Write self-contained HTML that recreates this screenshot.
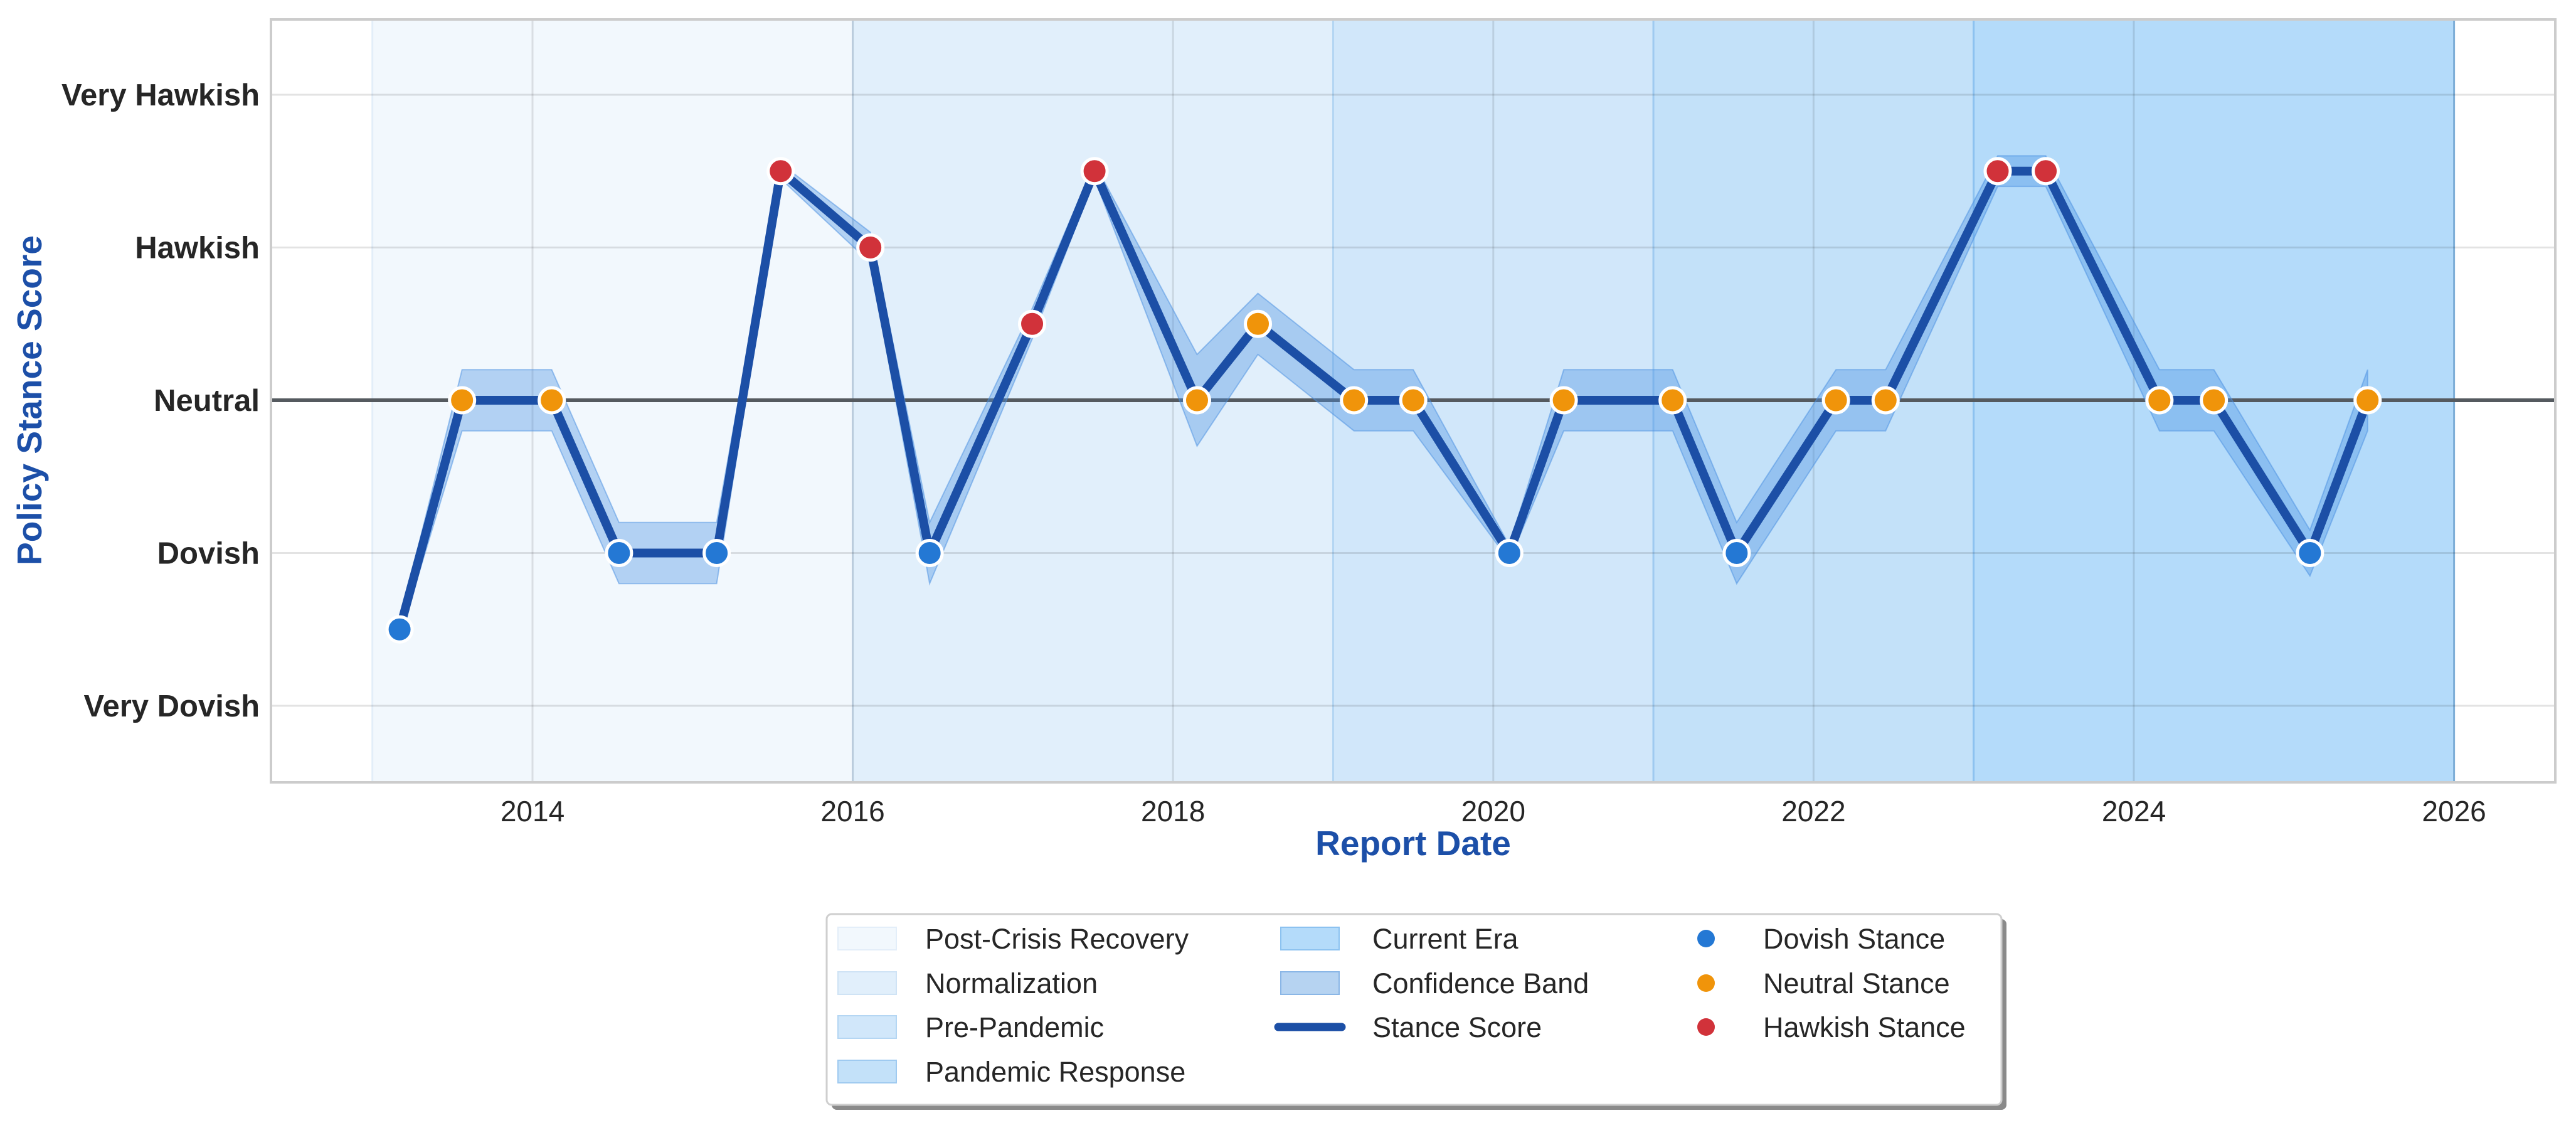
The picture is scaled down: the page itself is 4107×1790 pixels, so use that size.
<!DOCTYPE html>
<html><head><meta charset="utf-8"><style>
html,body{margin:0;padding:0;background:#fff;}
svg{display:block;font-family:"Liberation Sans",Arial,sans-serif;}
</style></head><body>
<svg id="chart" width="4107" height="1790" viewBox="0 0 4107 1790" xmlns="http://www.w3.org/2000/svg">
<g id="shades"></g><g id="grid"></g><g id="series"></g><g id="axes"></g><g id="legend"></g>
</svg>
<script>
const years = [2013.17,2013.56,2014.12,2014.54,2015.15,2015.55,2016.11,2016.48,2017.12,2017.51,2018.15,2018.53,2019.13,2019.5,2020.1,2020.44,2021.12,2021.52,2022.14,2022.45,2023.15,2023.45,2024.16,2024.5,2025.1,2025.46];
const scores = [-1.5,0,0,-1,-1,1.5,1,-1,0.5,1.5,0,0.5,0,0,-1,0,0,-1,0,0,1.5,1.5,0,0,-1,0];
const uncert = [0.05,0.2,0.2,0.2,0.2,0.05,0.1,0.2,0.1,0.05,0.3,0.2,0.2,0.2,0.05,0.2,0.2,0.2,0.2,0.2,0.1,0.1,0.2,0.2,0.15,0.2];
const stances = ['d','n','n','d','d','h','h','d','h','h','n','n','n','n','d','n','n','d','n','n','h','h','n','n','d','n'];
const eraStarts = [2013,2016,2019,2021,2023];
const eraEnds = [2016,2019,2021,2023,2026];
const eraNames = ['Post-Crisis Recovery','Normalization','Pre-Pandemic','Pandemic Response','Current Era'];
const yTickVals = [-2,-1,0,1,2];
const yTickLabels = ['Very Dovish','Dovish','Neutral','Hawkish','Very Hawkish'];
const xTickVals = [2014,2016,2018,2020,2022,2024,2026];

const NS='http://www.w3.org/2000/svg';
const L=432,R=4074,T=31,B=1247;
const xs=v=>849+(v-2014)*255.3;
const ys=v=>638-v*243.5;
function mk(tag,attrs,parent,text){const e=document.createElementNS(NS,tag);for(const k in attrs)e.setAttribute(k,attrs[k]);if(text!==undefined)e.textContent=text;document.getElementById(parent).appendChild(e);return e;}
const eraFill=['#f2f8fd','#e1effb','#d1e7fa','#c3e1f9','#b4dbfa'];
const eraEdge=['#e3eef9','#cfe3f5','#b4d6f3','#9fcaf0','#8cc2f0'];
const colors={d:'#2478d4',n:'#f0940a',h:'#d1323a'};

mk('rect',{x:L,y:T,width:R-L,height:B-T,fill:'#fff'},'shades');
for(let i=0;i<eraStarts.length;i++){
  const e=mk('rect',{x:xs(eraStarts[i]),y:T,width:xs(eraEnds[i])-xs(eraStarts[i]),height:B-T,fill:eraFill[i],stroke:eraEdge[i],'stroke-width':3},'shades');
  
  
}
for(const v of yTickVals){
  const g=mk('line',{x1:L,x2:R,y1:ys(v),y2:ys(v),stroke:'rgba(0,0,0,0.11)','stroke-width':3},'grid');
  
  
  const t=mk('text',{x:L-18,y:ys(v)+17,'text-anchor':'end','font-size':49,'font-weight':'bold',fill:'#262626'},'axes',yTickLabels[yTickVals.indexOf(v)]);
  
  
}
for(const v of xTickVals){
  const g=mk('line',{x1:xs(v),x2:xs(v),y1:T,y2:B,stroke:'rgba(0,0,0,0.1)','stroke-width':3},'grid');
  
  
  const t=mk('text',{x:xs(v),y:B+62,'text-anchor':'middle','font-size':46,fill:'#262626'},'axes',String(v));
  
  
}
const nl=mk('line',{x1:L,x2:R,y1:ys(0),y2:ys(0),stroke:'#555a5f','stroke-width':6},'series');


let up=[],dn=[];
for(let i=0;i<years.length;i++){up.push(xs(years[i])+','+ys(scores[i]+uncert[i]));dn.unshift(xs(years[i])+','+ys(scores[i]-uncert[i]));}
const band=mk('polygon',{points:up.concat(dn).join(' '),fill:'rgba(74,144,226,0.38)',stroke:'rgba(74,144,226,0.5)','stroke-width':2},'series');


const pts=years.map((y,i)=>xs(y)+','+ys(scores[i])).join(' ');
const line=mk('polyline',{points:pts,fill:'none',stroke:'#1c4fa6','stroke-width':14,'stroke-linejoin':'round'},'series');


for(let i=0;i<years.length;i++){
  const c=mk('circle',{cx:xs(years[i]),cy:ys(scores[i]),r:20,fill:colors[stances[i]],stroke:'#fff','stroke-width':5},'series');
  
  
}
const fr=mk('rect',{x:L,y:T,width:R-L,height:B-T,fill:'none',stroke:'#cccccc','stroke-width':4},'axes');


const xt=mk('text',{x:(L+R)/2,y:1363,'text-anchor':'middle','font-size':55,'font-weight':'bold',fill:'#1c4fa8'},'axes','Report Date');


const yt=mk('text',{x:0,y:0,'text-anchor':'middle','font-size':55,'font-weight':'bold',fill:'#1c4fa8',transform:'translate(66,638) rotate(-90)'},'axes','Policy Stance Score');


const sh=mk('rect',{x:1326,y:1465,width:1873,height:304,rx:8,fill:'#8a8a8a'},'legend');


const lb=mk('rect',{x:1318,y:1457,width:1873,height:304,rx:8,fill:'#fff',stroke:'#cfcfcf','stroke-width':3},'legend');


const rows=[1496,1567,1637,1708];
const items=[];
eraNames.slice(0,4).forEach((n,i)=>items.push({c:0,r:i,type:'patch',fill:eraFill[i],edge:eraEdge[i],t:n}));
items.push({c:1,r:0,type:'patch',fill:eraFill[4],edge:eraEdge[4],t:eraNames[4]});
items.push({c:1,r:1,type:'patch',fill:'#b6d3f1',edge:'#8ab6e6',t:'Confidence Band'});
items.push({c:1,r:2,type:'line',t:'Stance Score'});
items.push({c:2,r:0,type:'dot',fill:colors.d,t:'Dovish Stance'});
items.push({c:2,r:1,type:'dot',fill:colors.n,t:'Neutral Stance'});
items.push({c:2,r:2,type:'dot',fill:colors.h,t:'Hawkish Stance'});
const px=[1336,2042,2720],tx=[1475,2188,2811];
for(const it of items){
  const y=rows[it.r];
  let m;
  if(it.type==='patch') m=mk('rect',{x:px[it.c],y:y-18,width:93,height:36,fill:it.fill,stroke:it.edge,'stroke-width':2},'legend');
  else if(it.type==='line') m=mk('line',{x1:px[it.c]-4,x2:px[it.c]+97,y1:y,y2:y,stroke:'#1c4fa6','stroke-width':13,'stroke-linecap':'round'},'legend');
  else m=mk('circle',{cx:px[it.c],cy:y,r:14,fill:it.fill},'legend');
  
  
  const t=mk('text',{x:tx[it.c],y:y+16,'font-size':45,fill:'#262626'},'legend',it.t);
  
  
}
</script>
</body></html>
